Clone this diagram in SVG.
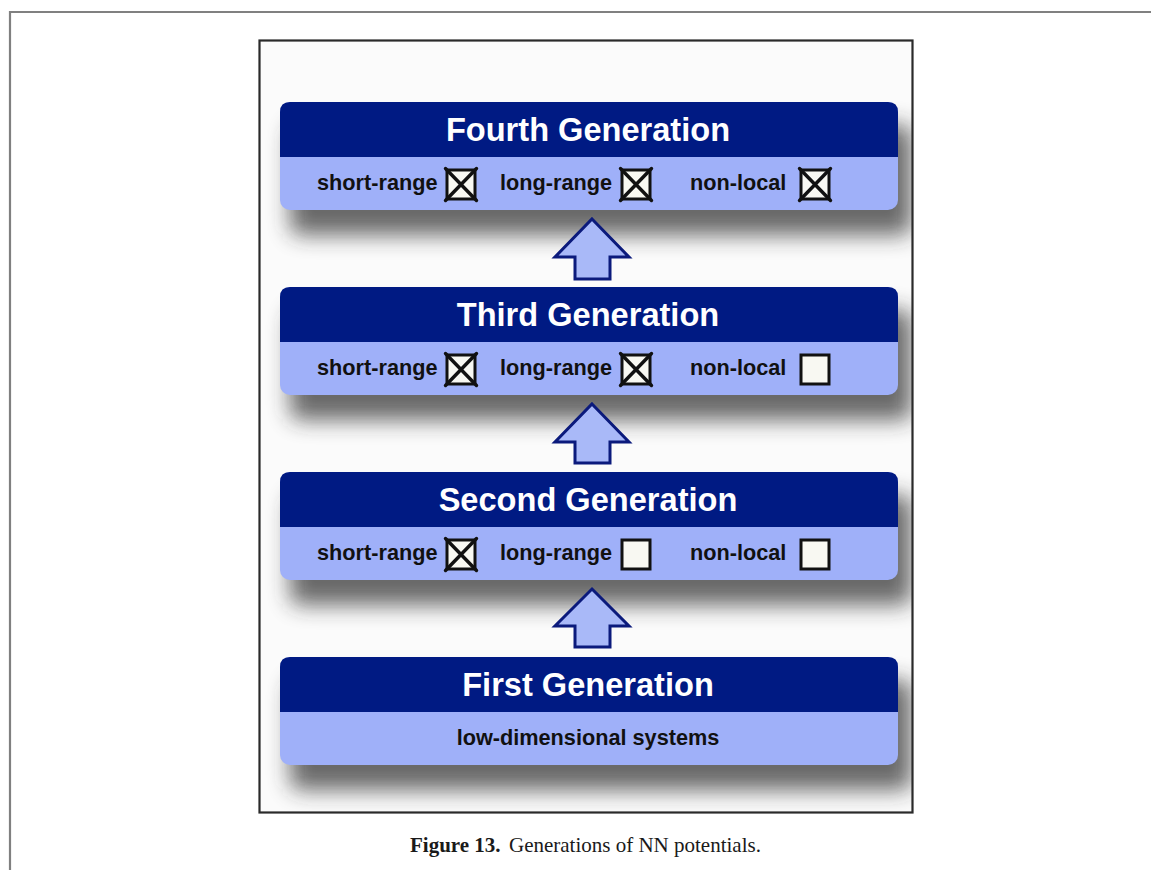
<svg xmlns="http://www.w3.org/2000/svg" width="1151" height="870" viewBox="0 0 1151 870">
<defs>
<style>
.title{font-family:"Liberation Sans",Arial,sans-serif;font-weight:bold;font-size:32.6px;fill:#ffffff;text-anchor:middle}
.lbl{font-family:"Liberation Sans",Arial,sans-serif;font-weight:bold;font-size:21.7px;fill:#111111}
.hdr{fill:#001a83}
.body{fill:#9fb0f9}
.shadow{fill:#2a2a2a;opacity:0.7;filter:url(#blur)}
.arrow{fill:#a9b9f8;stroke:#0b1a7c;stroke-width:3;stroke-linejoin:miter}
.cbox{fill:#f8f8f2;stroke:#111111;stroke-width:3}
.cx{stroke:#111111;stroke-width:3.4;stroke-linecap:round}
.cap{font-family:"Liberation Serif","Times New Roman",serif;font-size:21px;fill:#1a1a1a}
</style>
<filter id="blur" x="-20%" y="-60%" width="140%" height="220%">
<feGaussianBlur stdDeviation="11"/>
</filter>
<clipPath id="frameclip"><rect x="260" y="41" width="652" height="771"/></clipPath>
<g id="cbEmpty"><rect class="cbox" x="0" y="0" width="28" height="29"/></g>
<g id="cbChecked"><rect class="cbox" x="0" y="0" width="28" height="29"/><line class="cx" x1="-1.5" y1="-1.5" x2="29.5" y2="30.5"/><line class="cx" x1="29.5" y1="-1.5" x2="-1.5" y2="30.5"/></g>
</defs>
<rect x="0" y="0" width="1151" height="870" fill="#ffffff"/>
<g id="outer-frame">
<path d="M10,870 V12 H1151" fill="none" stroke="#808080" stroke-width="2.2"/>
</g>
<g id="picture-frame">
<rect x="259.5" y="40.5" width="653" height="772" fill="#fbfbfb" stroke="#2a2a2a" stroke-width="2.2"/>
</g>
<g id="shadows" clip-path="url(#frameclip)">
<rect class="shadow" x="290" y="125" width="622" height="110" rx="10"/>
<rect class="shadow" x="290" y="310" width="622" height="110" rx="10"/>
<rect class="shadow" x="290" y="495" width="622" height="110" rx="10"/>
<rect class="shadow" x="290" y="680" width="622" height="110" rx="10"/>
</g>
<g id="connectors">
<path class="arrow" d="M592,219 L629,257 L610,257 L610,279 L575,279 L575,257 L555,257 Z"/>
<path class="arrow" d="M592,404 L629,442 L610,442 L610,463 L575,463 L575,442 L555,442 Z"/>
<path class="arrow" d="M592,589 L629,626 L610,626 L610,647 L575,647 L575,626 L555,626 Z"/>
</g>
<g id="fourth-generation">
<rect class="body" x="280" y="102" width="618" height="108" rx="10"/>
<path class="hdr" d="M280,157 V112 Q280,102 290,102 H888 Q898,102 898,112 V157 Z"/>
<text class="title" x="588" y="141">Fourth Generation</text>
<text class="lbl" x="317" y="190">short-range</text>
<use href="#cbChecked" x="447" y="170"/>
<text class="lbl" x="500" y="190">long-range</text>
<use href="#cbChecked" x="622" y="170"/>
<text class="lbl" x="690" y="190">non-local</text>
<use href="#cbChecked" x="801" y="170"/>
</g>
<g id="third-generation">
<rect class="body" x="280" y="287" width="618" height="108" rx="10"/>
<path class="hdr" d="M280,342 V297 Q280,287 290,287 H888 Q898,287 898,297 V342 Z"/>
<text class="title" x="588" y="326">Third Generation</text>
<text class="lbl" x="317" y="375">short-range</text>
<use href="#cbChecked" x="447" y="355"/>
<text class="lbl" x="500" y="375">long-range</text>
<use href="#cbChecked" x="622" y="355"/>
<text class="lbl" x="690" y="375">non-local</text>
<use href="#cbEmpty" x="801" y="355"/>
</g>
<g id="second-generation">
<rect class="body" x="280" y="472" width="618" height="108" rx="10"/>
<path class="hdr" d="M280,527 V482 Q280,472 290,472 H888 Q898,472 898,482 V527 Z"/>
<text class="title" x="588" y="511">Second Generation</text>
<text class="lbl" x="317" y="560">short-range</text>
<use href="#cbChecked" x="447" y="540"/>
<text class="lbl" x="500" y="560">long-range</text>
<use href="#cbEmpty" x="622" y="540"/>
<text class="lbl" x="690" y="560">non-local</text>
<use href="#cbEmpty" x="801" y="540"/>
</g>
<g id="first-generation">
<rect class="body" x="280" y="657" width="618" height="108" rx="10"/>
<path class="hdr" d="M280,712 V667 Q280,657 290,657 H888 Q898,657 898,667 V712 Z"/>
<text class="title" x="588" y="696">First Generation</text>
<text class="lbl" x="588" y="745" text-anchor="middle">low-dimensional systems</text>
</g>
<g id="caption">
<text class="cap" x="410" y="852"><tspan font-weight="bold">Figure 13.</tspan><tspan x="509">Generations of NN potentials.</tspan></text>
</g>
</svg>
